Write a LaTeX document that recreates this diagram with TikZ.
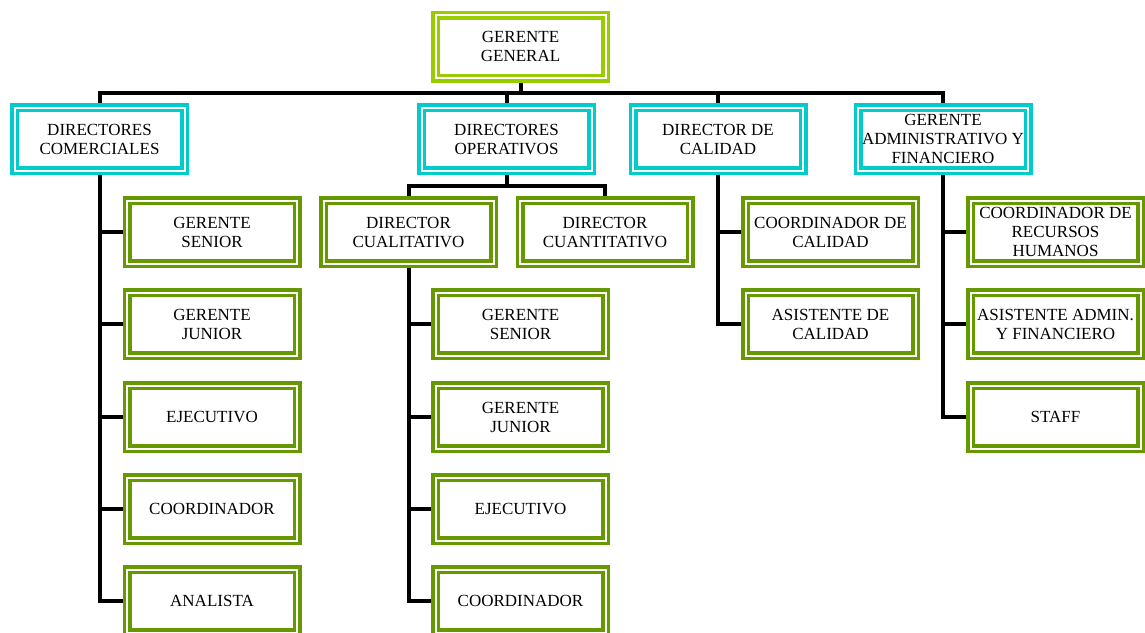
\documentclass[tikz,border=0pt]{standalone}
\usepackage{fontspec}
\setmainfont{Liberation Serif}
\usetikzlibrary{positioning,calc,backgrounds}
\definecolor{tlime}{RGB}{153,204,0}
\definecolor{tcyan}{RGB}{0,204,204}
\definecolor{tgreen}{RGB}{102,153,0}

\begin{document}
\begin{tikzpicture}[
    x=0.5pt, y=-0.5pt,
    font=\fontsize{8.5}{9.5}\selectfont,
    box/.style={draw=#1, double, double distance=1pt, line width=1.75pt, fill=white,
                minimum width=85pt, minimum height=31.5pt, inner sep=0pt, outer sep=0pt,
                align=center},
    headbox/.style={box=tlime}, dirbox/.style={box=tcyan}, unitbox/.style={box=tgreen},
    link/.style={draw=black, line width=2pt},
]
\useasboundingbox (0,0) rectangle (1145,632);

% ---------- top and directors ----------
\node[headbox] (gg)   at (520.5,46.5) {GERENTE\\GENERAL};
\node[dirbox]  (dcom) at (99.5,139)   {DIRECTORES\\COMERCIALES};
\node[dirbox]  (dope) at (506.5,139)  {DIRECTORES\\OPERATIVOS};
\node[dirbox]  (dcal) at (718,139)    {DIRECTOR DE\\CALIDAD};
\node[dirbox]  (dadm) at (943,139)    {GERENTE\\ADMINISTRATIVO Y\\FINANCIERO};

% ---------- comerciales ----------
\node[unitbox] (c1) at (212,232) {GERENTE\\SENIOR};
\node[unitbox] (c2) at (212,324) {GERENTE\\JUNIOR};
\node[unitbox] (c3) at (212,417) {EJECUTIVO};
\node[unitbox] (c4) at (212,509) {COORDINADOR};
\node[unitbox] (c5) at (212,601) {ANALISTA};

% ---------- operativos ----------
\node[unitbox] (dcual) at (408.5,232) {DIRECTOR\\CUALITATIVO};
\node[unitbox] (dcuan) at (605,232)   {DIRECTOR\\CUANTITATIVO};
\node[unitbox] (o1) at (520.5,324) {GERENTE\\SENIOR};
\node[unitbox] (o2) at (520.5,417) {GERENTE\\JUNIOR};
\node[unitbox] (o3) at (520.5,509) {EJECUTIVO};
\node[unitbox] (o4) at (520.5,601) {COORDINADOR};

% ---------- calidad ----------
\node[unitbox] (q1) at (830.5,232) {COORDINADOR DE\\CALIDAD};
\node[unitbox] (q2) at (830.5,324) {ASISTENTE DE\\CALIDAD};

% ---------- administrativo ----------
\node[unitbox] (a1) at (1055.5,232) {COORDINADOR DE\\RECURSOS\\HUMANOS};
\node[unitbox] (a2) at (1055.5,324) {ASISTENTE ADMIN.\\Y FINANCIERO};
\node[unitbox] (a3) at (1055.5,417) {STAFF};

% ---------- connectors ----------
\begin{scope}[on background layer]
\coordinate (bus)  at ($(gg.south)!.5!(dope.north)$);
\coordinate (obus) at ($(dope.south)!.5!(dcual.north)$);
\draw[link] (dcom.north) |- (bus) -| (dadm.north);
\draw[link] (gg.south) -- (gg.south |- bus);
\draw[link] (dope.north) -- (dope.north |- bus);
\draw[link] (dcal.north) -- (dcal.north |- bus);

\draw[link] (dcom.south) |- (c5.west);
\foreach \n in {c1,c2,c3,c4} \draw[link] (dcom.south |- \n.west) -- (\n.west);

\draw[link] (dope.south) -- (dope.south |- obus);
\draw[link] (dcual.north) |- (obus) -| (dcuan.north);
\draw[link] (dcual.south) |- (o4.west);
\foreach \n in {o1,o2,o3} \draw[link] (dcual.south |- \n.west) -- (\n.west);

\draw[link] (dcal.south) |- (q2.west);
\draw[link] (dcal.south |- q1.west) -- (q1.west);

\draw[link] (dadm.south) |- (a3.west);
\foreach \n in {a1,a2} \draw[link] (dadm.south |- \n.west) -- (\n.west);
\end{scope}
\end{tikzpicture}
\end{document}
